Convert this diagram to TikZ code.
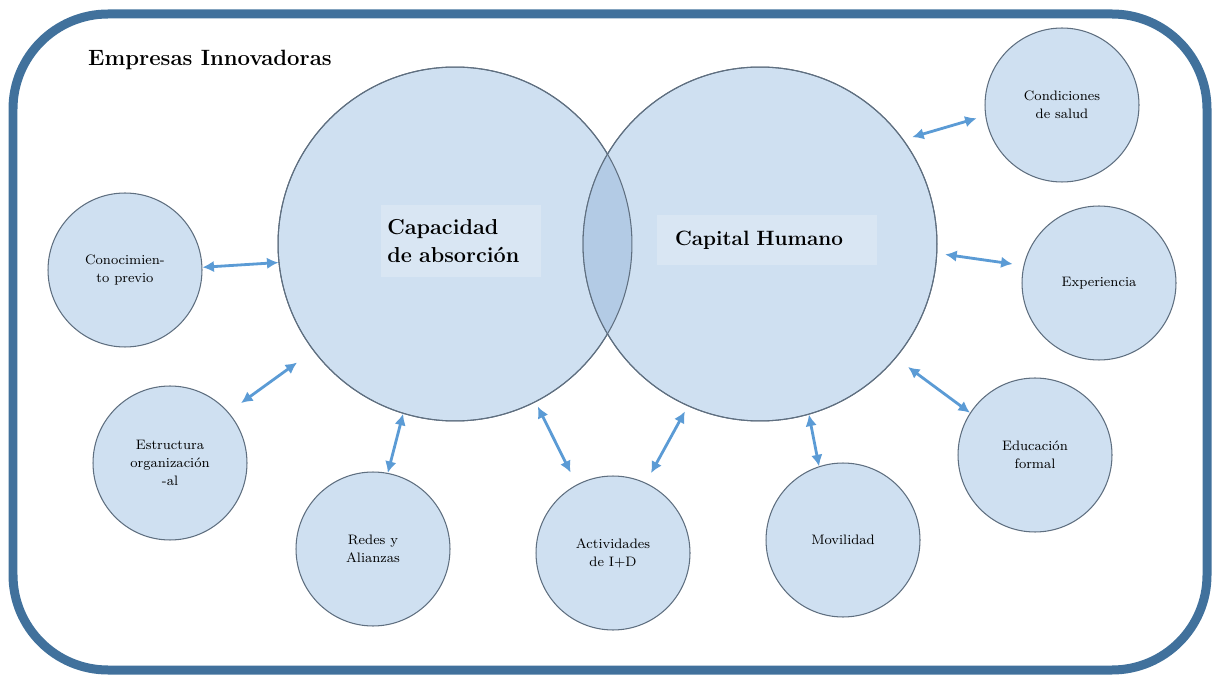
\documentclass[tikz,border=0pt]{standalone}
\usepackage{fontspec}
\usetikzlibrary{arrows.meta}
\definecolor{cadre}{HTML}{41719C}
\definecolor{remplissage}{HTML}{CFE0F1}
\definecolor{intersection}{HTML}{B3CBE5}
\definecolor{contour}{HTML}{5F6F80}
\definecolor{boite}{HTML}{D9E6F3}
\definecolor{trait}{HTML}{5B9BD5}

\begin{document}
\begin{tikzpicture}[x=0.02cm, y=-0.02cm]
\tikzset{petit/.style={draw=contour, line width=0.6pt, fill=remplissage, circle, inner sep=0pt, minimum size=3.08cm, align=center, font=\fontsize{7.8}{10.2}\selectfont},
grand/.style={draw=contour, line width=0.6pt, fill=remplissage, circle, inner sep=0pt, minimum size=7.08cm},
fleche/.style={draw=trait, line width=1.6pt, {Latex[length=2.3mm,width=2.3mm]}-{Latex[length=2.3mm,width=2.3mm]}},
titre/.style={fill=boite, font=\bfseries\fontsize{12.3}{15.5}\selectfont, align=left}}
\useasboundingbox (0,0) rectangle (1214,675);
\draw[cadre, line width=0.18cm, rounded corners=1.9cm] (13,14) rectangle (1207,670);
\node[anchor=west, font=\bfseries\fontsize{12.6}{15}\selectfont] (entete) at (82,60) {Empresas Innovadoras};
\node[grand] (cap) at (455,244) {};
\node[grand] (hum) at (760,244) {};
\begin{scope}
\clip (cap.center) circle (3.54cm);
\fill[intersection] (hum.center) circle (3.54cm);
\end{scope}
\draw[contour, line width=0.6pt] (cap.center) circle (3.54cm);
\draw[contour, line width=0.6pt] (hum.center) circle (3.54cm);
\node[titre, text width=2.95cm, inner xsep=0.12cm, minimum height=1.44cm] (txtcap) at (461,241) {Capacidad\\de absorción};
\node[titre, font=\bfseries\fontsize{11.8}{15.5}\selectfont, text width=3.68cm, inner xsep=0.36cm, minimum height=1cm] (txthum) at (767,240) {Capital Humano};
\node[petit] (con) at (125,270) {Conocimien-\\to previo};
\node[petit] (est) at (170,463) {Estructura\\organización\\-al};
\node[petit] (red) at (373,549) {Redes y\\Alianzas};
\node[petit] (act) at (613,553) {Actividades\\de I+D};
\node[petit] (mov) at (843,540) {Movilidad};
\node[petit] (edu) at (1035,455) {Educación\\formal};
\node[petit] (exp) at (1099,283) {Experiencia};
\node[petit] (sal) at (1062,105) {Condiciones\\de salud};
\draw[fleche] (con.2) -- (cap.186);
\draw[fleche, shorten <=0.31cm, shorten >=0.4cm] (est.41) -- (cap.217);
\draw[fleche] (cap.253) -- (red.79);
\draw[fleche, shorten <=0.1cm, shorten >=0.27cm] (cap.297) -- (act.118);
\draw[fleche, shorten <=0.12cm, shorten >=0.22cm] (hum.246) -- (act.65);
\draw[fleche] (hum.286) -- (mov.108);
\draw[fleche, shorten <=0.3cm] (hum.320) -- (edu.147);
\draw[fleche, shorten <=0.16cm, shorten >=0.22cm] (hum.357) -- (exp.167);
\draw[fleche, shorten <=0.18cm, shorten >=0.18cm] (hum.36) -- (sal.188);
\end{tikzpicture}
\end{document}
